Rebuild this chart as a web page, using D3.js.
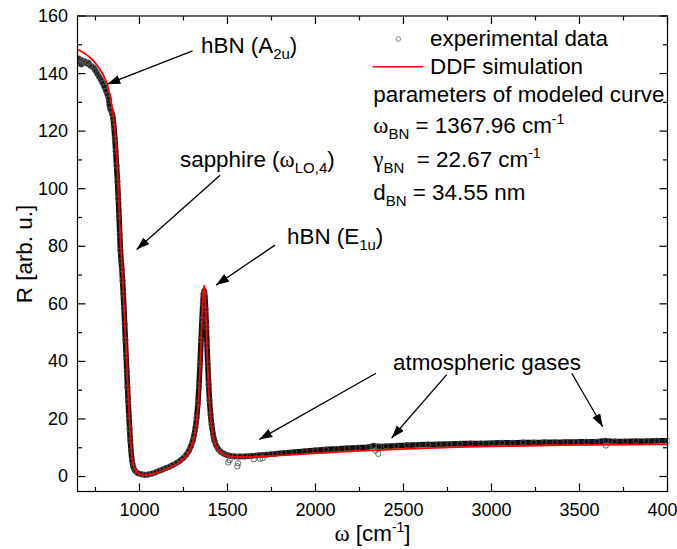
<!DOCTYPE html>
<html><head><meta charset="utf-8">
<script src="https://cdn.jsdelivr.net/npm/d3@7"></script>
<style>
body{margin:0;background:#fff;}
svg{display:block;font-family:"Liberation Sans",Arial,sans-serif;}
text{white-space:pre;fill:#000;}
</style></head>
<body><svg id="c" width="677" height="549"></svg>
<script>
// ---------- data ----------
const experimental = [[650,144.0],[655,145.2],[660,143.5],[665,144.8],[670,143.2],[675,144.5],[680,143.8],[690,144.2],[700,143.5],[710,143.8],[720,142.8],[730,142.5],[740,142.0],[750,141.0],[760,140.0],[770,139.0],[780,138.0],[790,136.8],[800,135.5],[810,134.0],[818,132.8],[825,131.5],[830,129.0],[835,127.5],[840,127.0],[845,126.0],[850,124.5],[855,121.5],[860,117.5],[865,113.0],[870,108.0],[875,102.5],[880,96.5],[884,90.5],[888,84.0],[892,78.5],[896,75.0],[900,72.0],[904,68.0],[908,63.5],[912,58.5],[916,53.0],[920,47.5],[924,42.0],[928,36.5],[932,31.0],[936,26.0],[940,21.0],[944,16.5],[948,12.5],[952,9.0],[958,5.5],[965,3.3],[975,2.0],[990,1.2],[1010,0.8],[1030,0.6],[1050,0.7],[1070,1.0],[1090,1.4],[1110,1.9],[1130,2.4],[1150,2.9],[1170,3.4],[1190,4.0],[1210,4.7],[1230,5.5],[1250,6.5],[1265,7.5],[1280,8.9],[1292,10.5],[1302,12.3],[1310,14.3],[1318,17.0],[1325,20.5],[1332,25.5],[1338,31.5],[1344,39.0],[1350,47.5],[1355,54.5],[1360,60.0],[1364,63.5],[1368,64.5],[1372,62.5],[1376,58.0],[1380,52.0],[1384,45.5],[1388,39.0],[1393,32.0],[1398,26.5],[1404,21.5],[1410,18.0],[1418,14.8],[1426,12.5],[1436,10.8],[1448,9.5],[1462,8.6],[1478,8.0],[1495,7.5],[1515,7.2],[1540,7.0],[1570,7.0],[1600,7.0],[1640,7.2],[1680,7.4],[1720,7.6],[1770,7.9],[1820,8.2],[1880,8.5],[1940,8.8],[2000,9.1],[2060,9.4],[2120,9.6],[2180,9.8],[2240,10.0],[2300,10.2],[2330,10.7],[2360,10.4],[2400,10.5],[2460,10.7],[2520,10.9],[2580,11.0],[2640,11.1],[2700,11.2],[2760,11.3],[2820,11.4],[2880,11.5],[2940,11.5],[3000,11.6],[3060,11.7],[3120,11.7],[3180,11.8],[3240,11.8],[3300,11.9],[3360,11.9],[3420,12.0],[3480,12.0],[3540,12.1],[3600,12.1],[3650,12.4],[3700,12.2],[3760,12.2],[3820,12.3],[3880,12.3],[3940,12.4],[4000,12.4]];
const outliers = [[1505,4.9],[1512,5.7],[1556,3.6],[1560,4.6],[1650,6.0],[1685,6.2],[1700,6.4],[2340,9.0],[2357,7.9],[3650,10.8]];
const simulation = [[648,148.3],[660,148.0],[680,147.3],[700,146.5],[720,145.5],[740,144.3],[760,142.8],[780,141.0],[800,138.8],[815,136.5],[830,133.0],[842,129.0],[852,124.5],[860,120.0],[867,114.5],[873,108.5],[878,102.0],[883,95.0],[888,88.0],[893,81.0],[898,75.5],[903,70.0],[908,64.5],[913,58.0],[918,51.5],[923,45.0],[928,38.5],[933,32.0],[938,25.5],[943,19.5],[948,14.0],[953,9.5],[958,6.3],[965,3.8],[975,2.2],[990,1.2],[1010,0.7],[1035,0.5],[1060,0.7],[1090,1.2],[1120,1.8],[1150,2.5],[1180,3.3],[1210,4.3],[1240,5.6],[1265,7.2],[1285,9.2],[1300,11.5],[1312,14.3],[1322,18.0],[1330,22.5],[1337,28.5],[1343,36.0],[1349,45.0],[1354,53.0],[1359,60.0],[1363,64.5],[1367,66.3],[1371,65.0],[1375,60.5],[1379,54.0],[1383,46.5],[1387,39.5],[1392,32.0],[1398,25.5],[1405,20.0],[1413,15.8],[1422,12.8],[1433,10.7],[1446,9.3],[1462,8.3],[1480,7.6],[1500,7.2],[1530,6.9],[1570,6.8],[1620,6.8],[1680,7.0],[1750,7.2],[1850,7.5],[1950,7.9],[2100,8.4],[2250,8.9],[2400,9.3],[2600,9.8],[2800,10.2],[3000,10.5],[3200,10.7],[3400,10.9],[3600,11.0],[3800,11.1],[4000,11.2]];
const xMajor = [1000,1500,2000,2500,3000,3500,4000];
const xMinor = [750,1250,1750,2250,2750,3250,3750];
const yMajor = [0,20,40,60,80,100,120,140,160];
const yMinor = [10,30,50,70,90,110,130,150];
// annotation arrows: [fromOmega, fromR, toOmega, toR]
const arrows = [[1302,147.9,817,136.3],[1458,104.7,984,78.9],[1770,80.4,1435,66.5],[2344,35.9,1681,12.9],[2746,35.4,2433,13.4],[3456,35.9,3632,17.3]];

// ---------- layout ----------
const L=77.5,R=667.5,T=16,B=491.5;
const svg=d3.select('#c');
const x=d3.scaleLinear().domain([648,4000]).range([L,R]);
const y=d3.scaleLinear().domain([-5.2,160]).range([B,T]);

svg.append('defs').append('clipPath').attr('id','clip').append('rect')
  .attr('x',L).attr('y',T).attr('width',R-L+2).attr('height',B-T);
svg.select('defs').append('marker').attr('id','ah').attr('markerUnits','userSpaceOnUse')
  .attr('markerWidth',14).attr('markerHeight',10).attr('refX',13).attr('refY',4.5).attr('orient','auto')
  .append('path').attr('d','M0,0 L13,4.5 L0,9 Z').attr('fill','#000');

const plot=svg.append('g').attr('clip-path','url(#clip)');
const line=d3.line().x(d=>x(d[0])).y(d=>y(d[1])).curve(d3.curveMonotoneX);
// experimental data band
plot.append('path').datum(experimental).attr('d',line)
  .attr('fill','none').attr('stroke','#111').attr('stroke-width',5.5).attr('stroke-linejoin','round');
plot.selectAll('circle.e').data(experimental.concat(outliers)).join('circle')
  .attr('cx',d=>x(d[0])).attr('cy',d=>y(d[1])).attr('r',2.7)
  .attr('fill','none').attr('stroke','#555').attr('stroke-width',0.9);
// simulation
plot.append('path').datum(simulation).attr('d',line)
  .attr('fill','none').attr('stroke','#ff0000').attr('stroke-width',1.8);

// ---------- axes ----------
const ax=svg.append('g').attr('stroke','#000').attr('stroke-width',1.2);
ax.append('rect').attr('x',L).attr('y',T).attr('width',R-L).attr('height',B-T).attr('fill','none');
function ticksX(vals,len){
  vals.forEach(v=>{
    ax.append('line').attr('x1',x(v)).attr('x2',x(v)).attr('y1',B).attr('y2',B-len);
    ax.append('line').attr('x1',x(v)).attr('x2',x(v)).attr('y1',T).attr('y2',T+len);
  });
}
function ticksY(vals,len){
  vals.forEach(v=>{
    ax.append('line').attr('y1',y(v)).attr('y2',y(v)).attr('x1',L).attr('x2',L+len);
    ax.append('line').attr('y1',y(v)).attr('y2',y(v)).attr('x1',R).attr('x2',R-len);
  });
}
ticksX(xMajor,8);ticksX(xMinor,4.5);ticksY(yMajor,8);ticksY(yMinor,4.5);
svg.append('g').selectAll('text').data(xMajor).join('text')
  .attr('x',d=>x(d)).attr('y',516).attr('text-anchor','middle').style('font-size','18px').text(d=>d);
svg.append('g').selectAll('text').data(yMajor).join('text')
  .attr('x',68).attr('y',d=>y(d)).attr('dy','0.33em').attr('text-anchor','end').style('font-size','18px').text(d=>d);

// rich text helper
function rich(x0,y0,parts,size,anchor){
  const t=svg.append('text').attr('x',x0).attr('y',y0).style('font-size',size+'px');
  if(anchor) t.attr('text-anchor',anchor);
  let cur=0;
  parts.forEach(p=>{
    const sh=p.s||0;
    const ts=t.append('tspan').attr('dy',sh-cur).style('font-size',(p.z||size)+'px').text(p.t);
    if(p.g) ts.style('font-family','"Liberation Serif","Times New Roman",serif');
    cur=sh;
  });
  return t;
}
// axis titles
rich(372.5,541,[{t:'ω',g:1,z:23},{t:' [cm'},{t:'-1',s:-9,z:14},{t:']',s:0}],22.4,'middle');
rich(0,0,[{t:'R [arb. u.]'}],22.4,'middle').attr('transform','translate(31.5,254) rotate(-90)');

// arrows
arrows.forEach(a=>{
  svg.append('line').attr('x1',x(a[0])).attr('y1',y(a[1])).attr('x2',x(a[2])).attr('y2',y(a[3]))
    .attr('stroke','#000').attr('stroke-width',1.3).attr('marker-end','url(#ah)');
});
// annotation labels
rich(201,53,[{t:'hBN (A'},{t:'2u',s:6,z:15},{t:')',s:0}],22.4);
rich(180,167,[{t:'sapphire ('},{t:'ω',g:1,z:23},{t:'LO,4',s:6,z:15},{t:')',s:0}],22.4);
rich(287,244,[{t:'hBN (E'},{t:'1u',s:6,z:15},{t:')',s:0}],22.4);
rich(393,370,[{t:'atmospheric gases'}],22.4);

// legend
svg.append('circle').attr('cx',398.3).attr('cy',39).attr('r',2.3).attr('fill','none').attr('stroke','#777').attr('stroke-width',0.9);
svg.append('line').attr('x1',372.7).attr('x2',423.3).attr('y1',66.7).attr('y2',66.7).attr('stroke','#ff0000').attr('stroke-width',1.5);
rich(430,46,[{t:'experimental data'}],22.4);
rich(430,74,[{t:'DDF simulation'}],22.4);
rich(373.3,101.7,[{t:'parameters of modeled curve'}],22.4);
rich(373.3,132.7,[{t:'ω',g:1,z:23},{t:'BN',s:6,z:15},{t:' = 1367.96 cm',s:0},{t:'-1',s:-9,z:14}],22.4);
rich(373.3,166.5,[{t:'γ',g:1,z:23},{t:'BN',s:6,z:15},{t:'  = 22.67 cm',s:0},{t:'-1',s:-9,z:14}],22.4);
rich(373.3,200,[{t:'d'},{t:'BN',s:6,z:15},{t:' = 34.55 nm',s:0}],22.4);
</script></body></html>
